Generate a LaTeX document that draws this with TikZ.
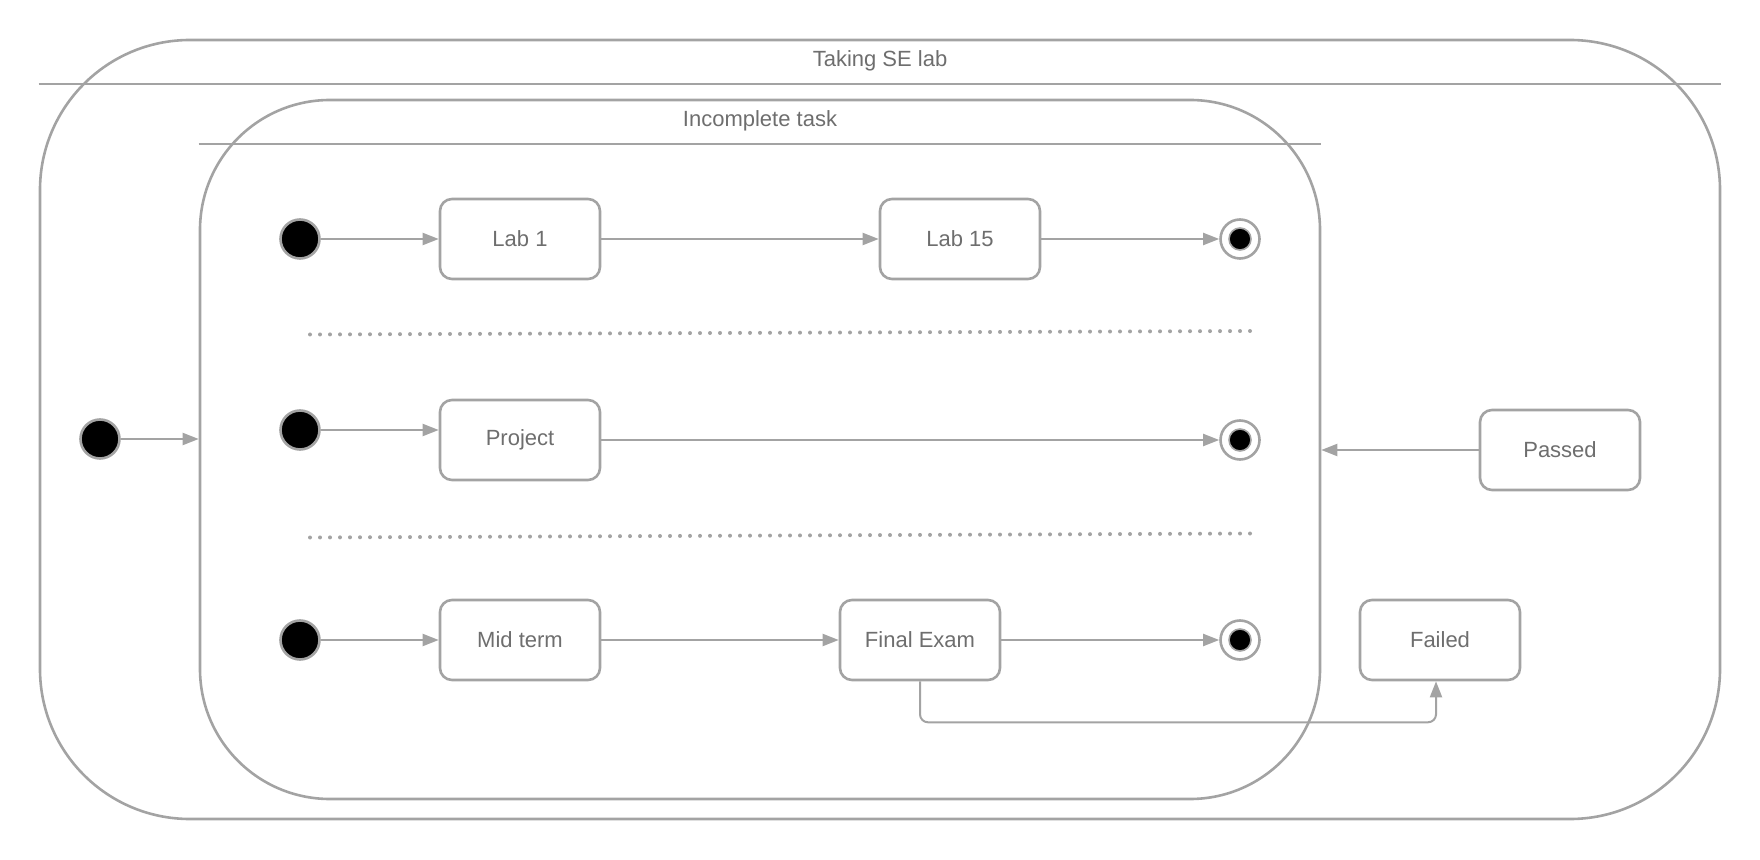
\documentclass[tikz,border=0pt]{standalone}
\usepackage{fontspec}
\setmainfont{Liberation Sans}
\usetikzlibrary{arrows.meta}
\definecolor{linegray}{HTML}{A3A3A3}
\definecolor{textgray}{HTML}{6E6E6E}

\begin{document}
\begin{tikzpicture}[x=0.5pt,y=-0.5pt,>={Triangle[length=8pt,width=6pt]},node distance=110pt,
    every node/.style={text=textgray,font=\fontsize{11}{13}\selectfont},
    region/.style={draw=linegray,line width=1.3pt,inner sep=0pt},
    box/.style={draw=linegray,line width=1.3pt,rounded corners=6pt,fill=white,minimum width=80pt,minimum height=40pt},
    init/.style={circle,draw=linegray,line width=1.3pt,fill=black,minimum size=19.5pt,inner sep=0pt},
    final/.style={circle,draw=linegray,line width=1.3pt,fill=white,minimum size=19.5pt,inner sep=0pt,
      path picture={\filldraw[draw=linegray,fill=black,line width=0.8pt] (path picture bounding box.center) circle (5.5pt);}},
    flow/.style={color=linegray,line width=1pt,->},
    divider/.style={draw=linegray,line width=2pt,line cap=round,dash pattern=on 0pt off 5pt}]
    \useasboundingbox (0,0) rectangle (1760,860);

    % composite states
    \node[region,minimum width=840pt,minimum height=389.5pt,rounded corners=75pt] (outer) at (880,429.5) {};
    \node[region,minimum width=560pt,minimum height=349.5pt,rounded corners=65pt] (inner) at (760,449.5) {};
    \draw[linegray,line width=1.4pt] (outer.west |- 0,84) -- (outer.east |- 0,84);
    \draw[linegray,line width=1.4pt] (inner.west |- 0,144) -- (inner.east |- 0,144);
    \node (outertitle) at (880,61) {Taking SE lab};
    \node (innertitle) at (760,121) {Incomplete task};

    \node[init] (i0) at (100,439) {};

    % labs
    \node[init] (i1) at (300,239) {};
    \node[box] (lab1) [right of=i1] {Lab 1};
    \node[box] (lab15) [right of=lab1,node distance=220pt] {Lab 15};
    \node[final] (f1) [right of=lab15,node distance=140pt] {};

    % project
    \node[init] (i2) [below of=i1,node distance=95.5pt] {};
    \node[box] (project) at (520,440) {Project};
    \node[final] (f2) [right of=project,node distance=360pt] {};

    % exams
    \node[init] (i3) [below of=i2,node distance=105pt] {};
    \node[box] (midterm) [right of=i3] {Mid term};
    \node[box] (exam) [right of=midterm,node distance=200pt] {Final Exam};
    \node[final] (f3) [right of=exam,node distance=160pt] {};

    \node[box] (failed) [right of=f3,node distance=100pt] {Failed};
    \node[box] (passed) at (1560,450) {Passed};

    \coordinate (d1a) at (310,334.5);
    \coordinate (d1b) at (1252,331);
    \coordinate (d2a) at (310,537.5);
    \coordinate (d2b) at (1252,533.5);
    \draw[divider] (d1a) -- (d1b);
    \draw[divider] (d2a) -- (d2b);

    \path[flow]
    (i0) edge (i0 -| inner.west)
    (i1) edge (lab1)
    (lab1) edge (lab15)
    (lab15) edge (f1)
    (i2) edge (i2 -| project.west)
    (project) edge (f2)
    (i3) edge (midterm)
    (midterm) edge (exam)
    (exam) edge (f3)
    (passed) edge (passed -| inner.east)
    ;
    \draw[flow,rounded corners=4pt] (exam.south) -- ++(0,41) -| ([xshift=-2pt]failed.south);
\end{tikzpicture}
\end{document}
